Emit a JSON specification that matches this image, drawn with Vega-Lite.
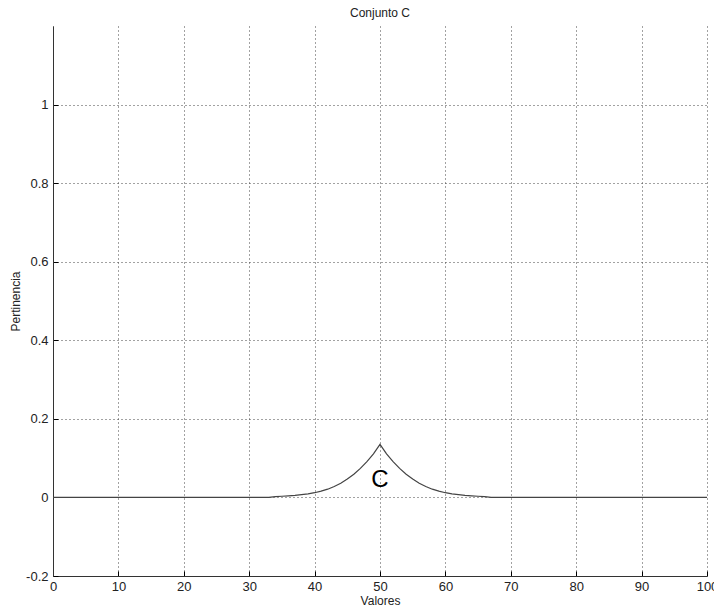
{
  "$schema": "https://vega.github.io/schema/vega-lite/v6.json",
  "width": 654,
  "height": 550,
  "autosize": "none",
  "padding": {"left": 53, "top": 26, "right": 7, "bottom": 33},
  "background": "white",
  "config": {
    "view": {"stroke": null},
    "font": "Liberation Sans Narrow, Liberation Sans, Arial",
    "axis": {
      "domainColor": "#333",
      "domainWidth": 1,
      "tickColor": "#000",
      "tickSize": -5,
      "gridColor": "#444",
      "gridDash": [1, 3],
      "gridWidth": 1,
      "labelFont": "Liberation Sans Narrow, Liberation Sans, Arial",
      "labelFontSize": 13,
      "labelColor": "#222",
      "titleFont": "Liberation Sans Narrow, Liberation Sans, Arial",
      "titleFontSize": 12,
      "titleFontWeight": "normal",
      "titleColor": "#222"
    }
  },
  "title": {
    "text": "Conjunto C",
    "font": "Liberation Sans Narrow, Liberation Sans, Arial",
    "fontSize": 12,
    "fontWeight": "normal",
    "color": "#222",
    "offset": 6
  },
  "layer": [
    {
      "data": {
        "values": [
          {"x": 0, "y": 0}, {"x": 33, "y": 0}, {"x": 34, "y": 0.002},
          {"x": 35, "y": 0.003}, {"x": 36, "y": 0.004}, {"x": 37, "y": 0.005},
          {"x": 38, "y": 0.007}, {"x": 39, "y": 0.009}, {"x": 40, "y": 0.012},
          {"x": 41, "y": 0.016}, {"x": 42, "y": 0.021}, {"x": 43, "y": 0.028},
          {"x": 44, "y": 0.036}, {"x": 45, "y": 0.047}, {"x": 46, "y": 0.059},
          {"x": 47, "y": 0.074}, {"x": 48, "y": 0.091}, {"x": 49, "y": 0.111},
          {"x": 50, "y": 0.135}, {"x": 51, "y": 0.111}, {"x": 52, "y": 0.091},
          {"x": 53, "y": 0.074}, {"x": 54, "y": 0.059}, {"x": 55, "y": 0.047},
          {"x": 56, "y": 0.036}, {"x": 57, "y": 0.028}, {"x": 58, "y": 0.021},
          {"x": 59, "y": 0.016}, {"x": 60, "y": 0.012}, {"x": 61, "y": 0.009},
          {"x": 62, "y": 0.007}, {"x": 63, "y": 0.005}, {"x": 64, "y": 0.004},
          {"x": 65, "y": 0.003}, {"x": 66, "y": 0.002}, {"x": 67, "y": 0},
          {"x": 100, "y": 0}
        ]
      },
      "mark": {"type": "line", "color": "#444", "strokeWidth": 1.2, "clip": true},
      "encoding": {
        "x": {
          "field": "x", "type": "quantitative",
          "scale": {"domain": [0, 100], "nice": false, "zero": false},
          "axis": {"title": "Valores", "values": [0, 10, 20, 30, 40, 50, 60, 70, 80, 90, 100], "labelPadding": 9, "titlePadding": 2, "format": "d", "labelFlush": false}
        },
        "y": {
          "field": "y", "type": "quantitative",
          "scale": {"domain": [-0.2, 1.2], "nice": false, "zero": false},
          "axis": {"title": "Pertinencia", "values": [-0.2, 0, 0.2, 0.4, 0.6, 0.8, 1], "labelPadding": 10, "titlePadding": 3, "labelFlush": false, "labelExpr": "replace(format(datum.value, '~g'), '−', '-')"}
        }
      }
    },
    {
      "data": {"values": [{"x": 50, "y": 0.044, "label": "C"}]},
      "mark": {"type": "text", "font": "Liberation Sans, Arial", "fontSize": 24, "color": "#000", "baseline": "middle", "align": "center"},
      "encoding": {
        "x": {"field": "x", "type": "quantitative"},
        "y": {"field": "y", "type": "quantitative"},
        "text": {"field": "label"}
      }
    }
  ]
}
